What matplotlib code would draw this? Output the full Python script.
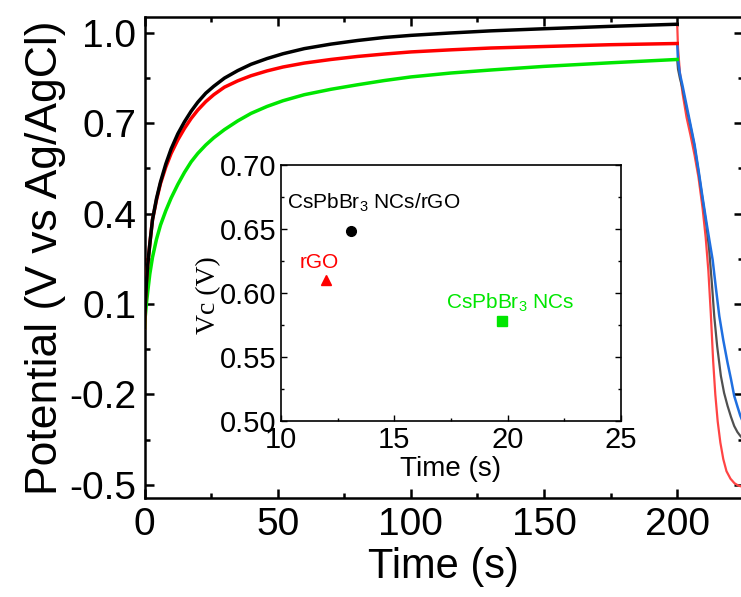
import matplotlib
matplotlib.use('Agg')
import matplotlib.pyplot as plt
from matplotlib.ticker import FixedLocator, MultipleLocator, FormatStrFormatter

plt.rcParams['font.family'] = 'Liberation Sans'
plt.rcParams['mathtext.fontset'] = 'custom'
plt.rcParams['mathtext.rm'] = 'Liberation Sans'
plt.rcParams['axes.unicode_minus'] = False

# charging curves (time in s, potential in V)
t_charge = [0, 0.3, 0.7, 1.2, 2, 3, 4.5, 6, 8, 10, 12.5, 15, 17.5, 20, 23, 26, 30, 35, 40, 46,
            52, 60, 70, 80, 90, 100, 115, 130, 150, 175, 200]
v_black = [0.02, 0.10, 0.17, 0.23, 0.30, 0.38, 0.45, 0.505, 0.565, 0.615, 0.665, 0.705, 0.74,
           0.77, 0.80, 0.823, 0.85, 0.875, 0.896, 0.915, 0.931, 0.948, 0.963, 0.975, 0.985,
           0.992, 1.0, 1.007, 1.014, 1.022, 1.029]
v_red = [0.02, 0.10, 0.17, 0.23, 0.30, 0.38, 0.445, 0.50, 0.555, 0.60, 0.645, 0.683, 0.716,
         0.744, 0.772, 0.795, 0.82, 0.841, 0.858, 0.874, 0.887, 0.9, 0.912, 0.922, 0.93, 0.937,
         0.944, 0.95, 0.955, 0.961, 0.965]
v_green = [0.02, 0.06, 0.10, 0.14, 0.20, 0.255, 0.315, 0.362, 0.41, 0.452, 0.497, 0.537, 0.572,
           0.60, 0.628, 0.652, 0.679, 0.708, 0.733, 0.756, 0.775, 0.795, 0.813, 0.828, 0.842,
           0.854, 0.867, 0.877, 0.889, 0.901, 0.912]

# discharging curves
t_dis_red = [200, 200.3, 201, 202, 203.5, 205, 206.5, 208, 209.5, 210.7, 211.7, 212.6, 213.5,
             214.3, 215.2, 216.2, 217.3, 218.5, 220, 221.5, 223, 226]
v_dis_red = [1.03, 0.95, 0.87, 0.80, 0.72, 0.66, 0.595, 0.52, 0.42, 0.32, 0.21, 0.07, -0.09,
             -0.2, -0.29, -0.36, -0.415, -0.455, -0.48, -0.495, -0.503, -0.51]
t_dis_gray = [200, 200.3, 201, 202, 203.5, 205, 206.5, 208, 209.5, 211, 212, 213, 213.9, 215,
              216.4, 217.6, 218.9, 220.2, 221.4, 222.6, 223.7, 226]
v_dis_gray = [0.912, 0.88, 0.85, 0.815, 0.75, 0.69, 0.625, 0.54, 0.45, 0.36, 0.28, 0.17, 0.06,
              -0.04, -0.139, -0.195, -0.238, -0.275, -0.305, -0.325, -0.338, -0.36]
t_dis_blue = [200, 200.3, 201, 202, 203.5, 205, 206.5, 208, 209.5, 211, 212.3, 213.3, 214.5,
              215.8, 217.3, 218.9, 220.2, 221.4, 222.6, 223.7, 226]
v_dis_blue = [0.965, 0.91, 0.865, 0.825, 0.76, 0.695, 0.63, 0.545, 0.455, 0.37, 0.3, 0.247,
              0.155, 0.06, -0.02, -0.095, -0.15, -0.205, -0.24, -0.271, -0.32]

y_major = [-0.5, -0.2, 0.1, 0.4, 0.7, 1.0]
y_minor = [-0.35, -0.05, 0.25, 0.55, 0.85]

# inset: Vc vs time
inset_names = ['CsPbBr$_3$ NCs/rGO', 'rGO', 'CsPbBr$_3$ NCs']
inset_t = [13.07, 11.98, 19.73]
inset_vc = [0.648, 0.610, 0.578]
inset_colors = ['black', '#ff0000', '#00e600']
inset_markers = ['o', '^', 's']
label_xy = [(10.25, 0.6662), (10.84, 0.6193), (17.28, 0.588)]

fig = plt.figure(figsize=(7.41, 5.97), dpi=100)
ax = fig.add_axes([144.5 / 741, 98.7 / 597, (743 - 144.5) / 741, (579.7 - 98.7) / 597])

ax.plot(t_dis_red, v_dis_red, color='#ff4444', lw=1.6, zorder=2)
ax.plot(t_dis_gray, v_dis_gray, color='#505050', lw=1.6, zorder=2)
ax.plot(t_dis_blue, v_dis_blue, color='#1f6fe0', lw=1.8, zorder=2)
ax.plot(t_charge, v_green, color='#00e600', lw=2.5, zorder=3)
ax.plot(t_charge, v_red, color='#ff0000', lw=2.5, zorder=3)
ax.plot(t_charge, v_black, color='black', lw=2.5, zorder=3)

ax.set_xlim(0, 224.7)
ax.set_ylim(-0.545, 1.052)
ax.xaxis.set_major_locator(MultipleLocator(50))
ax.xaxis.set_minor_locator(MultipleLocator(25))
ax.yaxis.set_major_locator(FixedLocator(y_major))
ax.yaxis.set_minor_locator(FixedLocator(y_minor))
ax.yaxis.set_major_formatter(FormatStrFormatter('%.1f'))
ax.tick_params(which='both', direction='in', top=True, right=True, width=1.8, labelsize=28)
ax.tick_params(which='major', length=6.5, pad=6)
ax.tick_params(which='minor', length=3.6)
for s in ax.spines.values():
    s.set_linewidth(1.8)
ax.set_xlabel('Time (s)', fontsize=30, labelpad=3)
ax.set_ylabel('Potential (V vs Ag/AgCl)', fontsize=32, labelpad=2)

ins = fig.add_axes([281 / 741, 176.3 / 597, 340 / 741, 255.7 / 597])
for i in range(3):
    ins.plot(inset_t[i], inset_vc[i], marker=inset_markers[i], color=inset_colors[i],
             ms=7, ls='none')
    ins.text(label_xy[i][0], label_xy[i][1], inset_names[i], color=inset_colors[i],
             fontsize=15, ha='left', va='baseline')
ins.set_xlim(10, 25)
ins.set_ylim(0.50, 0.70)
ins.xaxis.set_major_locator(MultipleLocator(5))
ins.xaxis.set_minor_locator(MultipleLocator(2.5))
ins.yaxis.set_major_locator(MultipleLocator(0.05))
ins.yaxis.set_minor_locator(MultipleLocator(0.025))
ins.yaxis.set_major_formatter(FormatStrFormatter('%.2f'))
ins.tick_params(which='both', direction='in', right=True, width=1.0, labelsize=21, pad=3)
ins.tick_params(axis='x', pad=4)
ins.tick_params(which='major', length=4)
ins.tick_params(which='minor', length=2.5)
for s in ins.spines.values():
    s.set_linewidth(1.2)
ins.set_xlabel('Time (s)', fontsize=20, labelpad=1)
ins.set_ylabel('Vc (V)', fontsize=20, family='Liberation Serif')
ins.yaxis.set_label_coords(-0.176, 0.49)

fig.savefig('out.png', dpi=100)
